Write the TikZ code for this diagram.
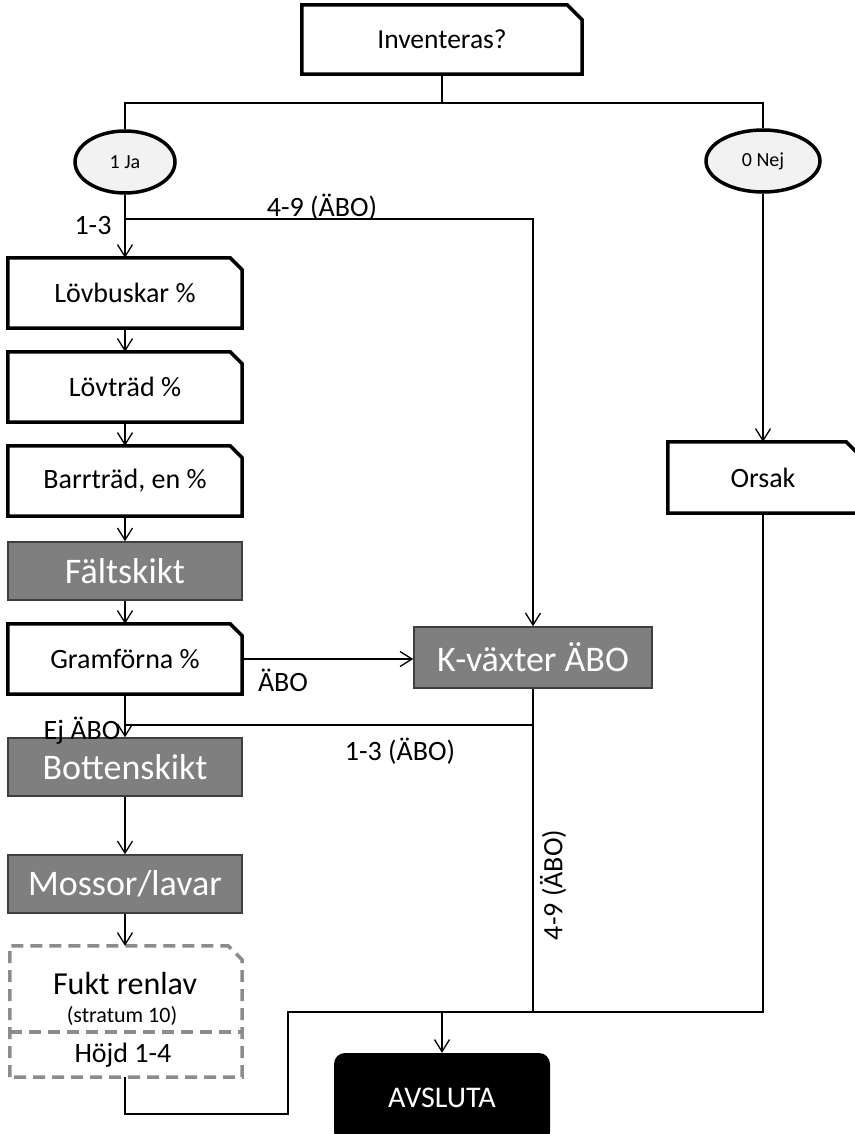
\documentclass[tikz,border=0pt]{standalone}
\usepackage{fontspec}
\setmainfont{Carlito}
\usetikzlibrary{arrows.meta,shapes.geometric}
\definecolor{boxgray}{HTML}{7F7F7F}
\definecolor{boxedge}{HTML}{3F3F3F}
\definecolor{ovalfill}{HTML}{F2F2F2}
\definecolor{dashgray}{HTML}{8C8C8C}

\newcommand\fs[1]{\fontsize{#1}{#1}\selectfont}
% frame with a clipped top-right corner around a named node
\newcommand\cutframe[3]{%
  \draw[#2] (#1.south west) -- (#1.north west) -- ([xshift=-#3]#1.north east)
    -- ([yshift=-#3]#1.north east) -- (#1.south east) -- cycle;}

\begin{document}
\begin{tikzpicture}[x=1pt,y=-1pt,
  conn/.style={line width=1.3pt,black},
  arr/.style={conn,-{Straight Barb[length=12pt,width=15pt,line width=1.3pt]}},
  plain/.style={inner sep=0pt,font=\fs{28}},
  thickframe/.style={line width=3.5pt,black,line join=miter},
  dashframe/.style={line width=3.5pt,dashgray,dash pattern=on 12pt off 7pt},
  graybox/.style={draw=boxedge,line width=1.5pt,fill=boxgray,text=white,
    inner sep=0pt,minimum width=234,minimum height=58,font=\fs{36}},
  oval/.style={ellipse,draw,line width=3.5pt,fill=ovalfill,inner sep=0pt,
    minimum height=62,font=\fs{20}},
  lbl/.style={inner sep=0pt,font=\fs{28}}
]
\useasboundingbox (0,0) rectangle (854,1134);

% decision and start
\node[plain,minimum width=280,minimum height=69,font=\fs{27.5}] (inv) at (442,39.5) {Inventeras?};
\cutframe{inv}{thickframe}{15pt}
\node[oval,minimum width=100] (ja) at (125,162) {1 Ja};
\node[oval,minimum width=114] (nej) at (763,161) {0 Nej};

% left column
\node[plain,minimum width=234,minimum height=70] (lovb) at (125,293) {Lövbuskar \%};
\cutframe{lovb}{thickframe}{12pt}
\node[plain,minimum width=234,minimum height=70] (lovt) at (125,387) {Lövträd \%};
\cutframe{lovt}{thickframe}{12pt}
\node[plain,minimum width=234,minimum height=70] (barr) at (125,481) {Barrträd, en \%};
\cutframe{barr}{thickframe}{12pt}
\node[graybox] (falt) at (125,571) {Fältskikt};
\node[plain,minimum width=234,minimum height=70] (gram) at (125,659) {Gramförna \%};
\cutframe{gram}{thickframe}{12pt}
\node[graybox] (bott) at (125,767) {Bottenskikt};
\node[graybox] (moss) at (125,884) {Mossor/lavar};

% moisture box with its two parts
\node[plain,minimum width=232,minimum height=131] (fukt) at (126,1011.5) {};
\cutframe{fukt}{dashframe}{14pt}
\coordinate (divl) at (10,1032);
\coordinate (divr) at (242,1032);
\draw[dashframe] (divl) -- (divr);
\node[lbl,font=\fs{32}] (fukt1) at (125,983) {Fukt renlav};
\node[lbl,font=\fs{22}] (fukt2) at (122,1016) {(stratum 10)};
\node[lbl] (fukt3) at (123,1055) {Höjd 1-4};

% right side
\node[graybox,minimum width=238,minimum height=61] (kv) at (533,657.5) {K-växter ÄBO};
\node[plain,minimum width=190,minimum height=71] (orsak) at (763,477.5) {Orsak};
\cutframe{orsak}{thickframe}{12pt}
\node[fill=black,rounded corners=11pt,minimum width=216,minimum height=90,
  inner sep=0pt,text=white,font=\fs{30}] (av) at (442,1098) {AVSLUTA};

% junction points
\coordinate (top) at (442,103);
\coordinate (b1) at (125,219);
\coordinate (b2) at (125,725);
\coordinate (m1) at (288,1114);
\coordinate (m2) at (288,1012);

% connectors
\draw[conn] (inv.south) -- (top);
\draw[conn] (ja.north) -- (ja.north |- top) -- (nej.north |- top) -- (nej.north);
\draw[arr] (ja.south) -- (lovb.north);
\draw[arr] (b1) -| (kv.north);
\draw[arr] (lovb.south) -- (lovt.north);
\draw[arr] (lovt.south) -- (barr.north);
\draw[arr] (barr.south) -- (falt.north);
\draw[arr] (falt.south) -- (gram.north);
\draw[arr] (gram.east) -- (gram.east -| kv.west);
\draw[arr] (gram.south) -- (bott.north);
\draw[arr] (bott.south) -- (moss.north);
\draw[arr] (moss.south) -- (moss.south |- fukt.north);
\draw[conn] (kv.south) -- (kv.south |- m2);
\draw[conn] (kv.south |- b2) -- (b2);
\draw[conn] (moss.south |- fukt.south) -- (moss.south |- m1) -- (m1) -- (m2) -- (kv.south |- m2);
\draw[arr] (nej.south) -- (orsak.north);
\draw[conn] (orsak.south) |- (av.north |- m2);
\draw[arr] (av.north |- m2) -- (av.north);

% branch labels
\node[lbl] (l13) at (93,226) {1-3};
\node[lbl] (l49) at (322,207) {4-9 (ÄBO)};
\node[lbl] (labo) at (283,680) {ÄBO};
\node[lbl] (lej) at (82,731) {Ej ÄBO};
\node[lbl] (l13abo) at (400,751) {1-3 (ÄBO)};
\node[lbl,rotate=90] (l49abo) at (553,885) {4-9 (ÄBO)};
\end{tikzpicture}
\end{document}
